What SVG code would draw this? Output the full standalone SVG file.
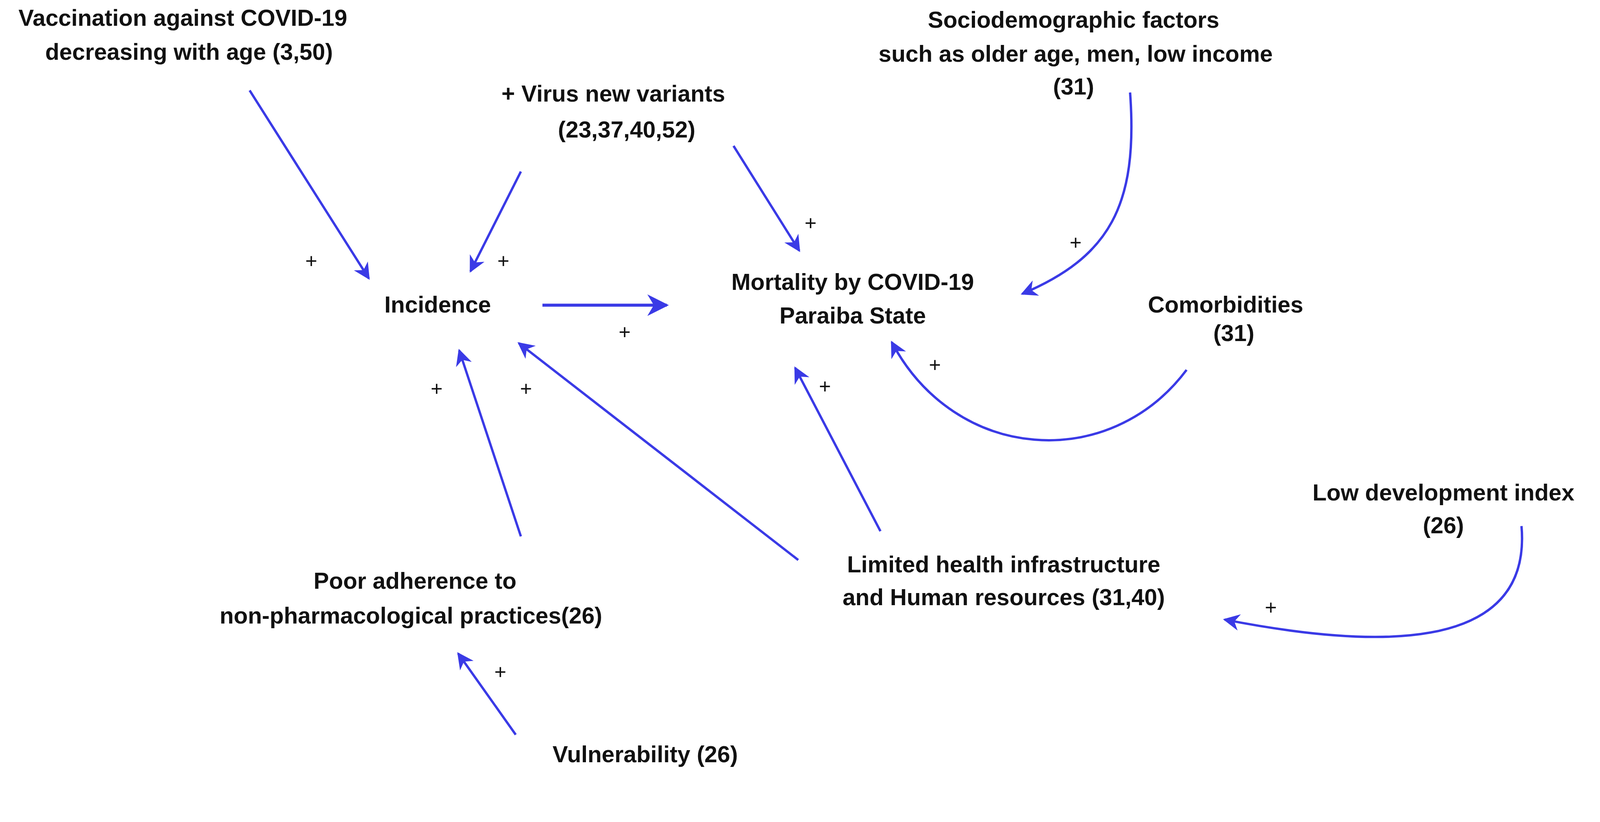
<svg xmlns="http://www.w3.org/2000/svg" width="4351" height="2104" viewBox="0 0 4351 2104">
<defs>
<marker id="ah" viewBox="0 0 10 10" refX="9" refY="5" markerWidth="7" markerHeight="7" markerUnits="strokeWidth" orient="auto"><path d="M0,0 L10,5 L0,10 L3,5 z" fill="#3a3ae6"/></marker>
<style>
text{font-family:"Liberation Sans",Arial,sans-serif;font-weight:bold;font-size:22.5px;fill:#111;text-anchor:middle}
.p{font-weight:normal;font-size:20px}
.c{fill:none;stroke:#3a3ae6;stroke-width:2.3;marker-end:url(#ah)}
</style>
</defs>
<rect width="4351" height="2104" fill="#fff"/>
<g transform="scale(2.63)">
<g id="connectors">
<path class="c" d="M243,88 L359,271"/>
<path class="c" d="M507,167 L458,264"/>
<path class="c" d="M714,142 L778,244"/>
<path class="c" d="M1100,90 C1108,200 1080,250 995,286"/>
<path class="c" d="M528,297 L649,297" style="stroke-width:3"/>
<path class="c" d="M1155,360 C1080,460 930,450 868,333"/>
<path class="c" d="M1481,512 C1492,640 1330,630 1192,603"/>
<path class="c" d="M777,545 L505,334"/>
<path class="c" d="M857,517 L774,358"/>
<path class="c" d="M507,522 L447,341"/>
<path class="c" d="M502,715 L446,636"/>
</g>
<g id="plus">
<text class="p" x="303" y="261">+</text>
<text class="p" x="490" y="261">+</text>
<text class="p" x="789" y="224">+</text>
<text class="p" x="1047" y="243">+</text>
<text class="p" x="608" y="330">+</text>
<text class="p" x="910" y="362">+</text>
<text class="p" x="425" y="385">+</text>
<text class="p" x="512" y="385">+</text>
<text class="p" x="803" y="383">+</text>
<text class="p" x="487" y="661">+</text>
<text class="p" x="1237" y="598">+</text>
</g>
<g id="n-vacc"><text x="178" y="25">Vaccination against COVID-19</text><text x="184" y="58">decreasing with age (3,50)</text></g>
<g id="n-virus"><text x="597" y="99">+ Virus new variants</text><text x="610" y="134">(23,37,40,52)</text></g>
<g id="n-socio"><text x="1045" y="27">Sociodemographic factors</text><text x="1047" y="60">such as older age, men, low income</text><text x="1045" y="92">(31)</text></g>
<g id="n-inc"><text x="426" y="304">Incidence</text></g>
<g id="n-mort"><text x="830" y="282">Mortality by COVID-19</text><text x="830" y="315">Paraiba State</text></g>
<g id="n-comor"><text x="1193" y="304">Comorbidities</text><text x="1201" y="332">(31)</text></g>
<g id="n-low"><text x="1405" y="487">Low development index</text><text x="1405" y="519">(26)</text></g>
<g id="n-lim"><text x="977" y="557">Limited health infrastructure</text><text x="977" y="589">and Human resources (31,40)</text></g>
<g id="n-poor"><text x="404" y="573">Poor adherence to</text><text x="400" y="607">non-pharmacological practices(26)</text></g>
<g id="n-vul"><text x="628" y="742">Vulnerability (26)</text></g>
</g>
</svg>
